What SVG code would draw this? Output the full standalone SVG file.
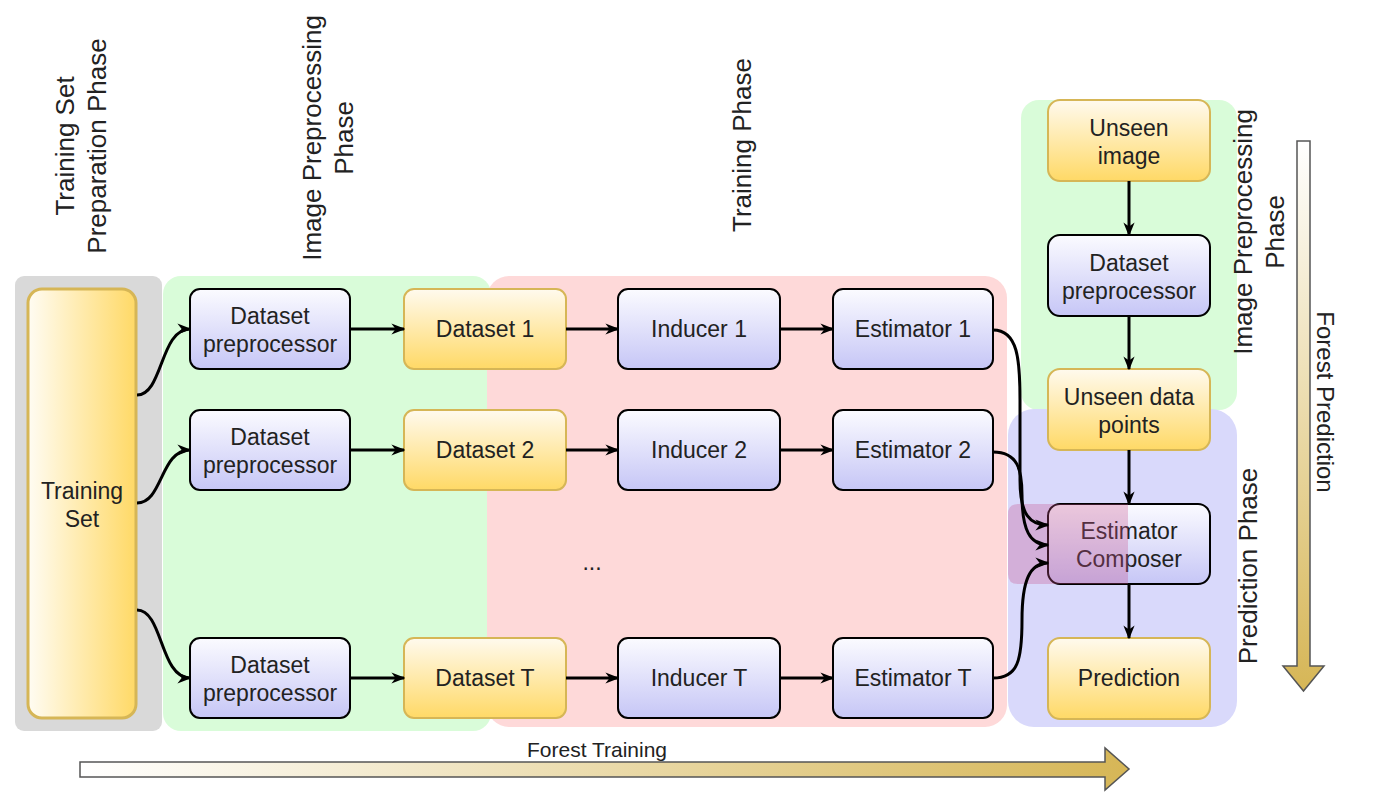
<svg xmlns="http://www.w3.org/2000/svg" width="1375" height="799" viewBox="0 0 1375 799">
<defs>
<linearGradient id="gBlue" x1="0" y1="0" x2="0" y2="1"><stop offset="0" stop-color="#fbfbff"/><stop offset="1" stop-color="#c6c6f6"/></linearGradient>
<linearGradient id="gOrange" x1="0" y1="0" x2="0" y2="1"><stop offset="0" stop-color="#fffaee"/><stop offset="1" stop-color="#ffd966"/></linearGradient>
<linearGradient id="gOrangeH" x1="0" y1="0" x2="1" y2="0"><stop offset="0" stop-color="#fffcf3"/><stop offset="1" stop-color="#ffd966"/></linearGradient>
<linearGradient id="gArrowH" x1="0" y1="0" x2="1" y2="0"><stop offset="0" stop-color="#ffffff"/><stop offset="1" stop-color="#d6b656"/></linearGradient>
<linearGradient id="gArrowV" x1="0" y1="0" x2="0" y2="1"><stop offset="0" stop-color="#ffffff"/><stop offset="1" stop-color="#d6b656"/></linearGradient>
<marker id="arr2" viewBox="0 0 10 10" refX="9" refY="5" markerWidth="14" markerHeight="14" markerUnits="userSpaceOnUse" orient="auto">
<path d="M0,1 L10,5 L0,9 L3,5 z" fill="#000"/>
</marker>
</defs>
<style>
.blue{fill:url(#gBlue);stroke:#000;stroke-width:2}
.orange{fill:url(#gOrange);stroke:#d6b656;stroke-width:2}
.t{font-family:"Liberation Sans",Arial,sans-serif;font-size:23px;fill:#222;text-anchor:middle}
.title{font-family:"Liberation Sans",Arial,sans-serif;font-size:26px;fill:#222;text-anchor:middle}
.small{font-family:"Liberation Sans",Arial,sans-serif;font-size:21px;fill:#222;text-anchor:middle}
.mid{font-family:"Liberation Sans",Arial,sans-serif;font-size:24px;fill:#222;text-anchor:middle}
.edge{fill:none;stroke:#000;stroke-width:3;marker-end:url(#arr2)}
</style>
<rect width="1375" height="799" fill="#ffffff"/>

<g id="panels">
<rect x="15" y="276" width="147" height="455" rx="9" fill="#d9d9d9"/>
<rect x="163" y="276" width="328" height="455" rx="18" fill="#d9fcd9"/>
<rect x="487" y="276" width="520" height="451" rx="22" fill="#fed9d9"/>
<rect x="1021" y="100" width="216" height="310" rx="18" fill="#d9fcd9"/>
<rect x="1008" y="409" width="229" height="318" rx="26" fill="#d9d9fb"/>
</g>

<g id="titles">
<text class="title" transform="translate(74,146) rotate(-90)"><tspan x="0" y="0">Training Set</tspan><tspan x="0" y="32">Preparation Phase</tspan></text>
<text class="title" transform="translate(321,138) rotate(-90)"><tspan x="0" y="0">Image Preprocessing</tspan><tspan x="0" y="32">Phase</tspan></text>
<text class="title" transform="translate(751,145) rotate(-90)">Training Phase</text>
<text class="title" transform="translate(1252,232) rotate(-90)"><tspan x="0" y="0">Image Preprocessing</tspan><tspan x="0" y="32">Phase</tspan></text>
<text class="title" transform="translate(1257,566) rotate(-90)">Prediction Phase</text>
</g>

<g id="node-training-set">
<rect x="28" y="289" width="108" height="429" rx="14" fill="url(#gOrangeH)" stroke="#d6b656" stroke-width="3"/>
<text class="t" x="82" y="499">Training</text><text class="t" x="82" y="527">Set</text>
</g>

<g id="node-dp1"><rect class="blue" x="190" y="289" width="160" height="80" rx="10"/><text class="t" x="270" y="324">Dataset</text><text class="t" x="270" y="352">preprocessor</text></g>
<g id="node-dp2"><rect class="blue" x="190" y="410" width="160" height="80" rx="10"/><text class="t" x="270" y="445">Dataset</text><text class="t" x="270" y="473">preprocessor</text></g>
<g id="node-dpT"><rect class="blue" x="190" y="638" width="160" height="80" rx="10"/><text class="t" x="270" y="673">Dataset</text><text class="t" x="270" y="701">preprocessor</text></g>

<g id="node-ds1"><rect class="orange" x="404" y="289" width="162" height="80" rx="10"/><text class="t" x="485" y="337">Dataset 1</text></g>
<g id="node-ds2"><rect class="orange" x="404" y="410" width="162" height="80" rx="10"/><text class="t" x="485" y="458">Dataset 2</text></g>
<g id="node-dsT"><rect class="orange" x="404" y="638" width="162" height="80" rx="10"/><text class="t" x="485" y="686">Dataset T</text></g>

<g id="node-ind1"><rect class="blue" x="618" y="289" width="162" height="80" rx="10"/><text class="t" x="699" y="337">Inducer 1</text></g>
<g id="node-ind2"><rect class="blue" x="618" y="410" width="162" height="80" rx="10"/><text class="t" x="699" y="458">Inducer 2</text></g>
<g id="node-indT"><rect class="blue" x="618" y="638" width="162" height="80" rx="10"/><text class="t" x="699" y="686">Inducer T</text></g>

<g id="node-est1"><rect class="blue" x="833" y="289" width="160" height="80" rx="10"/><text class="t" x="913" y="337">Estimator 1</text></g>
<g id="node-est2"><rect class="blue" x="833" y="410" width="160" height="80" rx="10"/><text class="t" x="913" y="458">Estimator 2</text></g>
<g id="node-estT"><rect class="blue" x="833" y="638" width="160" height="80" rx="10"/><text class="t" x="913" y="686">Estimator T</text></g>

<g id="ellipsis"><text class="t" x="592" y="570">...</text></g>

<g id="node-unseen-image"><rect class="orange" x="1048" y="100" width="162" height="81" rx="12"/><text class="t" x="1129" y="136">Unseen</text><text class="t" x="1129" y="164">image</text></g>
<g id="node-dp-right"><rect class="blue" x="1048" y="235" width="162" height="81" rx="12"/><text class="t" x="1129" y="271">Dataset</text><text class="t" x="1129" y="299">preprocessor</text></g>
<g id="node-unseen-data"><rect class="orange" x="1048" y="369" width="162" height="81" rx="12"/><text class="t" x="1129" y="405">Unseen data</text><text class="t" x="1129" y="433">points</text></g>
<g id="node-composer"><rect class="blue" x="1048" y="504" width="162" height="80" rx="12"/><text class="t" x="1129" y="539">Estimator</text><text class="t" x="1129" y="567">Composer</text></g>
<g id="node-prediction"><rect class="orange" x="1048" y="638" width="162" height="81" rx="12"/><text class="t" x="1129" y="686">Prediction</text></g>

<g id="overlay">
<path d="M1128,504 L1018,504 Q1008,504 1008,514 L1008,574 Q1008,584 1018,584 L1128,584 Z" fill="#c8508c" fill-opacity="0.3"/>
</g>

<g id="connectors">
<path class="edge" d="M137,395 C163,395 160,329 190,329"/>
<path class="edge" d="M137,503 C163,503 160,450 190,450"/>
<path class="edge" d="M137,610 C163,610 160,678 190,678"/>
<path class="edge" d="M350,329 L404,329"/>
<path class="edge" d="M350,450 L404,450"/>
<path class="edge" d="M350,678 L404,678"/>
<path class="edge" d="M566,329 L618,329"/>
<path class="edge" d="M566,450 L618,450"/>
<path class="edge" d="M566,678 L618,678"/>
<path class="edge" d="M780,329 L833,329"/>
<path class="edge" d="M780,450 L833,450"/>
<path class="edge" d="M780,678 L833,678"/>
<path class="edge" d="M993,330 C1018,330 1020,360 1020,400 L1020,480 C1020,515 1030,525 1048,525"/>
<path class="edge" d="M993,452 C1018,452 1022,470 1022,495 C1022,530 1030,545 1048,545"/>
<path class="edge" d="M993,678 C1018,678 1022,660 1022,620 C1022,580 1030,563 1048,563"/>
<path class="edge" d="M1129,181 L1129,235"/>
<path class="edge" d="M1129,316 L1129,369"/>
<path class="edge" d="M1129,450 L1129,504"/>
<path class="edge" d="M1129,584 L1129,638"/>
</g>

<g id="forest-training">
<path d="M80,762 L1105,762 L1105,748 L1129,769 L1105,790 L1105,777 L80,777 Z" fill="url(#gArrowH)" stroke="#555" stroke-width="1.5"/>
<text class="small" x="597" y="757">Forest Training</text>
</g>
<g id="forest-prediction">
<path d="M1297,141 L1310,141 L1310,666 L1324,666 L1303.5,691 L1283,666 L1297,666 Z" fill="url(#gArrowV)" stroke="#555" stroke-width="1.5"/>
<text class="mid" transform="translate(1317,402) rotate(90)">Forest Prediction</text>
</g>
</svg>
